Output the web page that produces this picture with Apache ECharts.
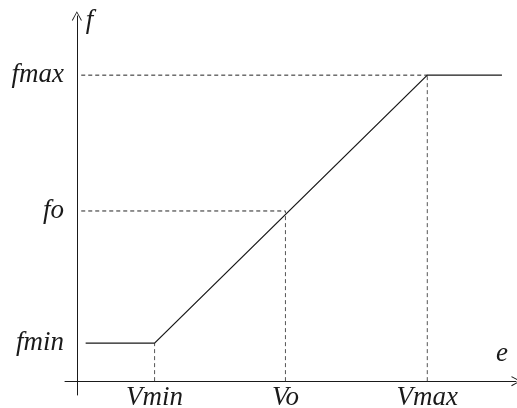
<!DOCTYPE html>
<html>
<head>
<meta charset="utf-8">
<script src="https://cdn.jsdelivr.net/npm/echarts@6/dist/echarts.min.js"></script>
<style>
  html, body { margin: 0; padding: 0; background: #fff; }
  #chart { width: 517px; height: 408px; }
</style>
</head>
<body>
<div id="chart"></div>
<script>
// Frequency vs. control voltage characteristic (arbitrary units)
const voltageNames = ['Vmin', 'Vo', 'Vmax'];
const voltageValues = [17.7, 47.5, 79.8];
const freqNames = ['fmin', 'fo', 'fmax'];
const freqValues = [10.4, 46.6, 83.8];
const curveStart = 2.0;   // left end of the lower plateau
const curveEnd = 96.8;    // right end of the upper plateau

const FONT = '"Liberation Serif", "Times New Roman", serif';
const INK = '#1a1a1a';
const DASH_H = '#222';
const DASH_V = '#555';

// Transfer curve: flat at fmin, linear ramp, flat at fmax
const curve = [
  [curveStart, freqValues[0]],
  [voltageValues[0], freqValues[0]],
  [voltageValues[2], freqValues[2]],
  [curveEnd, freqValues[2]]
];

// Dashed guide lines to the axes: horizontal ones to the f axis, vertical ones to the e axis
const hGuides = [
  [[1, freqValues[2]], [voltageValues[2], freqValues[2]]],
  [[1, freqValues[1]], [voltageValues[1], freqValues[1]]]
];
const vGuides = [
  [[voltageValues[0], 0], [voltageValues[0], freqValues[0]]],
  [[voltageValues[1], 0], [voltageValues[1], freqValues[1]]],
  [[voltageValues[2], 0], [voltageValues[2], freqValues[2]]]
];

// Open chevron arrow head, pointing up in symbol space
const chevron = 'path://M0,0 L-5,9 L-4.2,9.6 L0,1.6 L4.2,9.6 L5,9 Z';

const labelFont = { fontFamily: FONT, fontStyle: 'italic', fontSize: 27, color: INK };

const guideSeries = (segs, color) => segs.map(seg => ({
  type: 'line',
  data: seg,
  symbol: 'none',
  silent: true,
  lineStyle: { color: color, width: 1, type: [4, 3] }
}));

const chart = echarts.init(document.getElementById('chart'), null, { renderer: 'canvas' });

chart.setOption({
  animation: false,
  backgroundColor: '#fff',
  grid: { left: 65, right: 1, top: 16, bottom: 13, outerBoundsMode: 'none', containLabel: false },
  xAxis: {
    type: 'value',
    min: -2.7,
    max: 100,
    splitLine: { show: false },
    axisTick: { show: false },
    axisLine: {
      onZero: true,
      symbol: ['none', chevron],
      symbolSize: [10, 11],
      lineStyle: { color: INK, width: 1 }
    },
    // labels are laid out from the grid's bottom edge, so pull them up under the axis
    axisLabel: Object.assign({
      customValues: voltageValues,
      formatter: v => voltageNames[voltageValues.indexOf(v)],
      margin: -11
    }, labelFont),
    name: 'e',
    nameLocation: 'end',
    nameGap: -20,
    nameTextStyle: Object.assign({
      align: 'left', verticalAlign: 'bottom', padding: [0, 0, 14, 0]
    }, labelFont)
  },
  yAxis: {
    type: 'value',
    min: -3.8,
    max: 100,
    splitLine: { show: false },
    axisTick: { show: false },
    axisLine: {
      onZero: true,
      symbol: ['none', chevron],
      symbolSize: [10, 11],
      lineStyle: { color: INK, width: 1 }
    },
    axisLabel: Object.assign({
      customValues: freqValues,
      formatter: v => freqNames[freqValues.indexOf(v)],
      margin: 1
    }, labelFont),
    name: 'f',
    nameLocation: 'end',
    nameGap: -18,
    nameTextStyle: Object.assign({
      align: 'left', verticalAlign: 'bottom', padding: [0, 0, 0, 9]
    }, labelFont)
  },
  series: [
    ...guideSeries(hGuides, DASH_H),
    ...guideSeries(vGuides, DASH_V),
    {
      type: 'line',
      data: curve,
      symbol: 'none',
      silent: true,
      lineStyle: { color: INK, width: 1.3 }
    }
  ]
});
</script>
</body>
</html>
